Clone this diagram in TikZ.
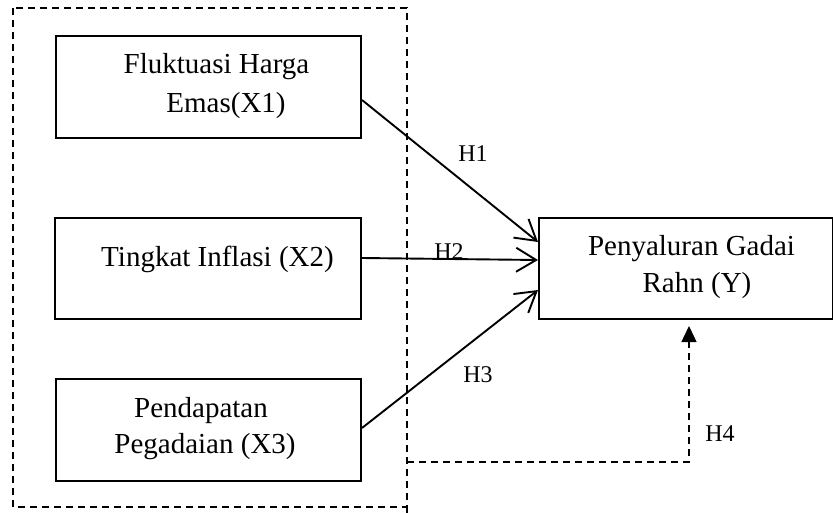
\documentclass[tikz,border=0pt]{standalone}
\usepackage{fontspec}
\setmainfont{Liberation Serif}
\usetikzlibrary{arrows.meta}
\begin{document}
\begin{tikzpicture}[x=1pt,y=-1pt,
  box/.style={draw,line width=2pt,inner sep=0pt},
  txt/.style={anchor=base,inner sep=0pt,font=\fontsize{29}{34}\selectfont},
  lbl/.style={anchor=base,inner sep=0pt,font=\fontsize{24}{28}\selectfont},
  dline/.style={line width=1.4pt,dash pattern=on 7pt off 5pt},
  arr/.style={line width=1.9pt,-{Straight Barb[length=20pt,width=24pt,line width=1.9pt]}},
  darr/.style={line width=1.4pt,dash pattern=on 7pt off 5pt,-{Triangle[length=16pt,width=15pt]}}]
\useasboundingbox (0,0) rectangle (833,513);
% outer dashed frame
\draw[dline] (13,8) rectangle (407,507);
\coordinate (fb) at (407,507);
\coordinate (fe) at (407,513);
\draw[dline] (fb) -- (fe);
% boxes
\node[box,minimum width=305pt,minimum height=102pt] (x1) at (208.5,87) {};
\node[box,minimum width=306pt,minimum height=101pt] (x2) at (208,268.5) {};
\node[box,minimum width=305pt,minimum height=102pt] (x3) at (208.5,430) {};
\node[box,minimum width=294pt,minimum height=101pt] (y) at (686,268.5) {};
% texts
\node[txt] (t1a) at (216.5,74) {Fluktuasi Harga};
\node[txt] (t1b) at (226,113) {Emas(X1)};
\node[txt] (t2) at (217.5,267) {Tingkat Inflasi (X2)};
\node[txt] (t3a) at (201,417) {Pendapatan};
\node[txt] (t3b) at (205,453) {Pegadaian (X3)};
\node[txt] (tya) at (691.5,255) {Penyaluran Gadai};
\node[txt] (tyb) at (697,292) {Rahn (Y)};
% arrows
\draw[arr] (x1.east |- 0,100) -- (y.west |- 0,242);
\draw[arr] (x2.east |- 0,258) -- (y.west |- 0,260);
\draw[arr] (x3.east |- 0,428) -- (y.west |- 0,290);
% H4
\coordinate (h4s) at (407,462);
\coordinate (h4c) at (689,462);
\draw[darr] (h4s) -- (h4c) -- (689,326);
% labels
\node[lbl] (h1) at (473,162) {H1};
\node[lbl] (h2) at (449,260) {H2};
\node[lbl] (h3) at (478,382) {H3};
\node[lbl] (h4) at (720,441) {H4};
\end{tikzpicture}
\end{document}
